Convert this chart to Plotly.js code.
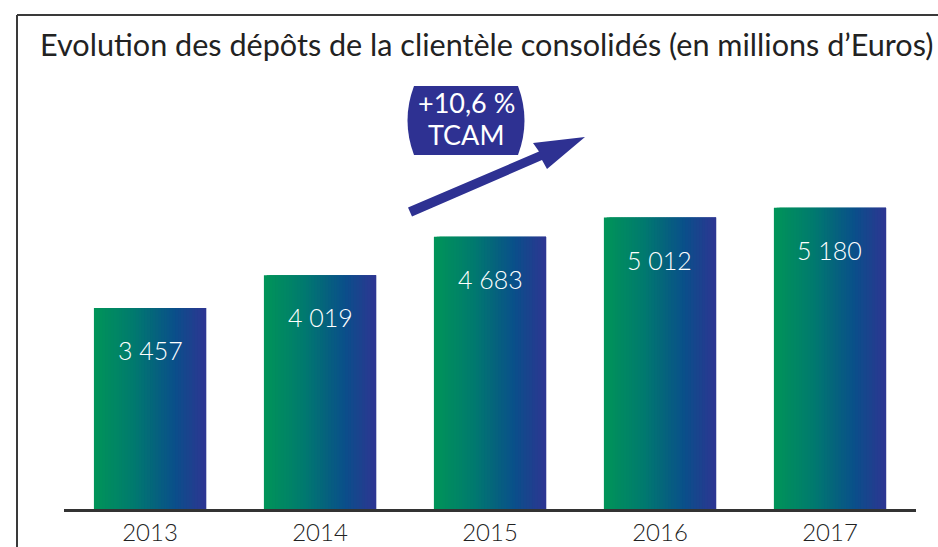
<!DOCTYPE html>
<html>
<head>
<meta charset="utf-8">
<script src="https://cdn.plot.ly/plotly-3.0.1.min.js"></script>
<style>html,body{margin:0;padding:0;background:#fff;}#chart{width:938px;height:547px;}</style>
</head>
<body>
<div id="chart"></div>
<script>
// ---- data ----
var years = ['2013', '2014', '2015', '2016', '2017'];
var deposits = [3457, 4019, 4683, 5012, 5180];
var depositLabels = ['3 457', '4 019', '4 683', '5 012', '5 180'];
var titleText = 'Evolution des dépôts de la clientèle consolidés (en millions d’Euros)';
var badgeLines = ['+10,6 %', 'TCAM'];

// ---- style ----
var FONT = 'Lato, "Noto Sans", sans-serif';
var W = 938, H = 547;
var M = {l: 64, r: 22, t: 60, b: 38};
var PW = W - M.l - M.r, PH = H - M.t - M.b;
function px(x) { return (x - M.l) / PW; }
function py(y) { return (H - M.b - y) / PH; }

var stops = [[0, [0, 149, 88]], [0.35, [0, 122, 110]], [0.72, [10, 79, 138]], [1, [46, 53, 146]]];
function colorAt(t) {
  for (var i = 1; i < stops.length; i++) {
    if (t <= stops[i][0]) {
      var a = stops[i - 1], b = stops[i];
      var f = (t - a[0]) / (b[0] - a[0]);
      var c = a[1].map(function (v, j) { return Math.round(v + (b[1][j] - v) * f); });
      return 'rgb(' + c.join(',') + ')';
    }
  }
  return 'rgb(' + stops[stops.length - 1][1].join(',') + ')';
}

var barW = 0.66, N = 40, step = barW / N;
var traces = [];
for (var k = 0; k < N; k++) {
  var off = -barW / 2 + k * step;
  var wdt = Math.min(3 * step, barW / 2 - off);
  traces.push({
    type: 'bar',
    x: years,
    y: deposits,
    width: years.map(function () { return wdt; }),
    offset: years.map(function () { return off; }),
    marker: {color: colorAt((k + 0.5) / N), line: {width: 0}},
    hoverinfo: 'skip',
    showlegend: false
  });
}

var annotations = years.map(function (yr, i) {
  return {
    x: i, y: deposits[i], xref: 'x', yref: 'y',
    xanchor: 'center', yanchor: 'middle',
    text: depositLabels[i], showarrow: false, yshift: -42,
    font: {family: FONT, size: 25, weight: 300, color: '#ffffff'}
  };
});
annotations.push({
  x: px(466), y: py(102), xref: 'paper', yref: 'paper', xanchor: 'center', yanchor: 'middle',
  text: badgeLines[0], showarrow: false, font: {family: FONT, size: 27, color: '#ffffff'}
});
annotations.push({
  x: px(466), y: py(134), xref: 'paper', yref: 'paper', xanchor: 'center', yanchor: 'middle',
  text: badgeLines[1], showarrow: false, font: {family: FONT, size: 27, color: '#ffffff'}
});

var badgePath = 'M ' + px(414) + ',' + py(86) + ' L ' + px(518) + ',' + py(86) +
  ' Q ' + px(531) + ',' + py(120.5) + ' ' + px(518) + ',' + py(155) +
  ' L ' + px(414) + ',' + py(155) +
  ' Q ' + px(401) + ',' + py(120.5) + ' ' + px(414) + ',' + py(86) + ' Z';
var arrowPts = [[408, 207.5], [539, 151.5], [533, 143], [585, 137], [547, 169], [542, 160], [412, 216.5]];
var arrowPath = arrowPts.map(function (p, i) { return (i ? 'L ' : 'M ') + px(p[0]) + ',' + py(p[1]); }).join(' ') + ' Z';

var shapes = [
  {type: 'path', xref: 'paper', yref: 'paper', path: badgePath, fillcolor: '#2e3192', line: {width: 0}},
  {type: 'path', xref: 'paper', yref: 'paper', path: arrowPath, fillcolor: '#2e3192', line: {width: 0}},
  {type: 'line', xref: 'paper', yref: 'paper', x0: px(17), x1: px(940), y0: py(15), y1: py(15), line: {color: '#3a3a3a', width: 2}},
  {type: 'line', xref: 'paper', yref: 'paper', x0: px(17), x1: px(17), y0: py(15), y1: py(549), line: {color: '#3a3a3a', width: 2}}
];

var layout = {
  width: W, height: H,
  margin: M,
  paper_bgcolor: '#ffffff', plot_bgcolor: '#ffffff',
  barmode: 'overlay',
  title: {
    text: titleText, x: 40 / W, xref: 'container', xanchor: 'left',
    y: 1 - 45 / H, yref: 'container', yanchor: 'middle',
    font: {family: FONT, size: 30.6, color: '#222222'}
  },
  xaxis: {
    type: 'category', range: [-0.506, 4.506],
    showline: true, linecolor: '#333333', linewidth: 3,
    ticks: '', showgrid: false, zeroline: false,
    tickfont: {family: FONT, size: 24, weight: 300, color: '#222222'}
  },
  yaxis: {
    range: [0, PH / (201 / 3457)], visible: false, showgrid: false, zeroline: false
  },
  annotations: annotations,
  shapes: shapes
};

Plotly.newPlot('chart', traces, layout, {displayModeBar: false, staticPlot: true});
</script>
</body>
</html>
